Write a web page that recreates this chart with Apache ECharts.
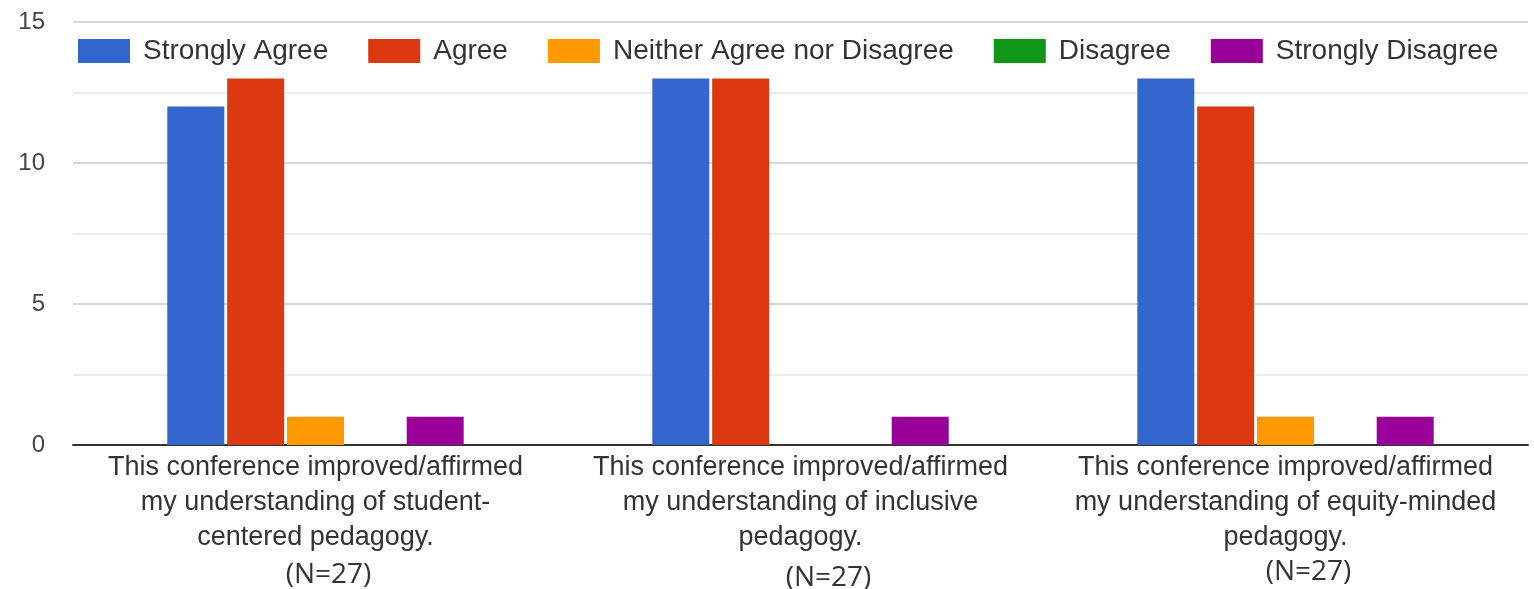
<!DOCTYPE html>
<html>
<head>
<meta charset="utf-8">
<script src="https://cdn.jsdelivr.net/npm/echarts@6/dist/echarts.min.js"></script>
<style>html,body{margin:0;padding:0;background:#fff;}#c{width:1534px;height:589px;}</style>
</head>
<body>
<div id="c"></div>
<script>
const categories = [
  "This conference improved/affirmed\nmy understanding of student-\ncentered pedagogy.",
  "This conference improved/affirmed\nmy understanding of inclusive\npedagogy.",
  "This conference improved/affirmed\nmy understanding of equity-minded\npedagogy."
];
const nLabels = ["(N=27)", "(N=27)", "(N=27)"];
const seriesNames = ["Strongly Agree", "Agree", "Neither Agree nor Disagree", "Disagree", "Strongly Disagree"];
const stronglyAgree = [12, 13, 13];
const agree = [13, 13, 12];
const neither = [1, 0, 1];
const disagree = [0, 0, 0];
const stronglyDisagree = [1, 1, 1];
const yTicks = [0, 5, 10, 15];

const colors = ["#3366cc", "#dc3912", "#ff9900", "#109618", "#990099"];
const values = [stronglyAgree, agree, neither, disagree, stronglyDisagree];

const chart = echarts.init(document.getElementById('c'));
const gridLeft = 73, gridRight = 6, gridTop = 22, gridBottom = 144;

const option = {
  animation: false,
  color: colors,
  legend: {
    left: 73, top: 32,
    itemWidth: 52, itemHeight: 24, itemGap: 40,
    icon: 'rect',
    textStyle: { fontFamily: 'Liberation Sans, Arial', fontSize: 28, color: '#333', padding: [0, 0, 0, 8] },
    data: seriesNames
  },
  grid: { left: gridLeft, right: gridRight, top: gridTop, bottom: gridBottom, containLabel: false },
  xAxis: {
    type: 'category',
    data: categories,
    axisLine: { show: true, lineStyle: { color: '#333', width: 2 } },
    axisTick: { show: false },
    axisLabel: {
      interval: 0, margin: 5,
      fontFamily: 'Liberation Sans, Arial', fontSize: 27, lineHeight: 35, color: '#333', align: 'center'
    }
  },
  yAxis: {
    type: 'value', min: 0, max: 15, interval: 5,
    axisLine: { show: false }, axisTick: { show: false },
    axisLabel: { margin: 28, fontFamily: 'Liberation Sans, Arial', fontSize: 24, color: '#444',
      formatter: v => yTicks.includes(v) ? String(v) : '' },
    splitLine: { lineStyle: { color: '#c8c8c8', width: 1.5 } },
    minorTick: { show: false, splitNumber: 2 },
    minorSplitLine: { show: true, lineStyle: { color: '#e6e6e6', width: 1.5 } }
  },
  series: seriesNames.map((n, i) => ({
    name: n, type: 'bar', data: values[i],
    barWidth: 57, barGap: '5%',
    itemStyle: { color: colors[i] }
  })),
  graphic: []
};
chart.setOption(option);

// (N=...) annotations beneath each category label
const nOffsets = [[13, 0], [28, 3], [23, -3]];
const graphics = categories.map((c, i) => {
  const px = chart.convertToPixel({ xAxisIndex: 0 }, c);
  return {
    type: 'text',
    x: px + nOffsets[i][0], y: 575 + nOffsets[i][1],
    style: { text: nLabels[i], font: '28px "Open Sans", "Noto Sans", sans-serif', fill: '#333',
      align: 'center', verticalAlign: 'middle' }
  };
});
chart.setOption({ graphic: graphics });
</script>
</body>
</html>
